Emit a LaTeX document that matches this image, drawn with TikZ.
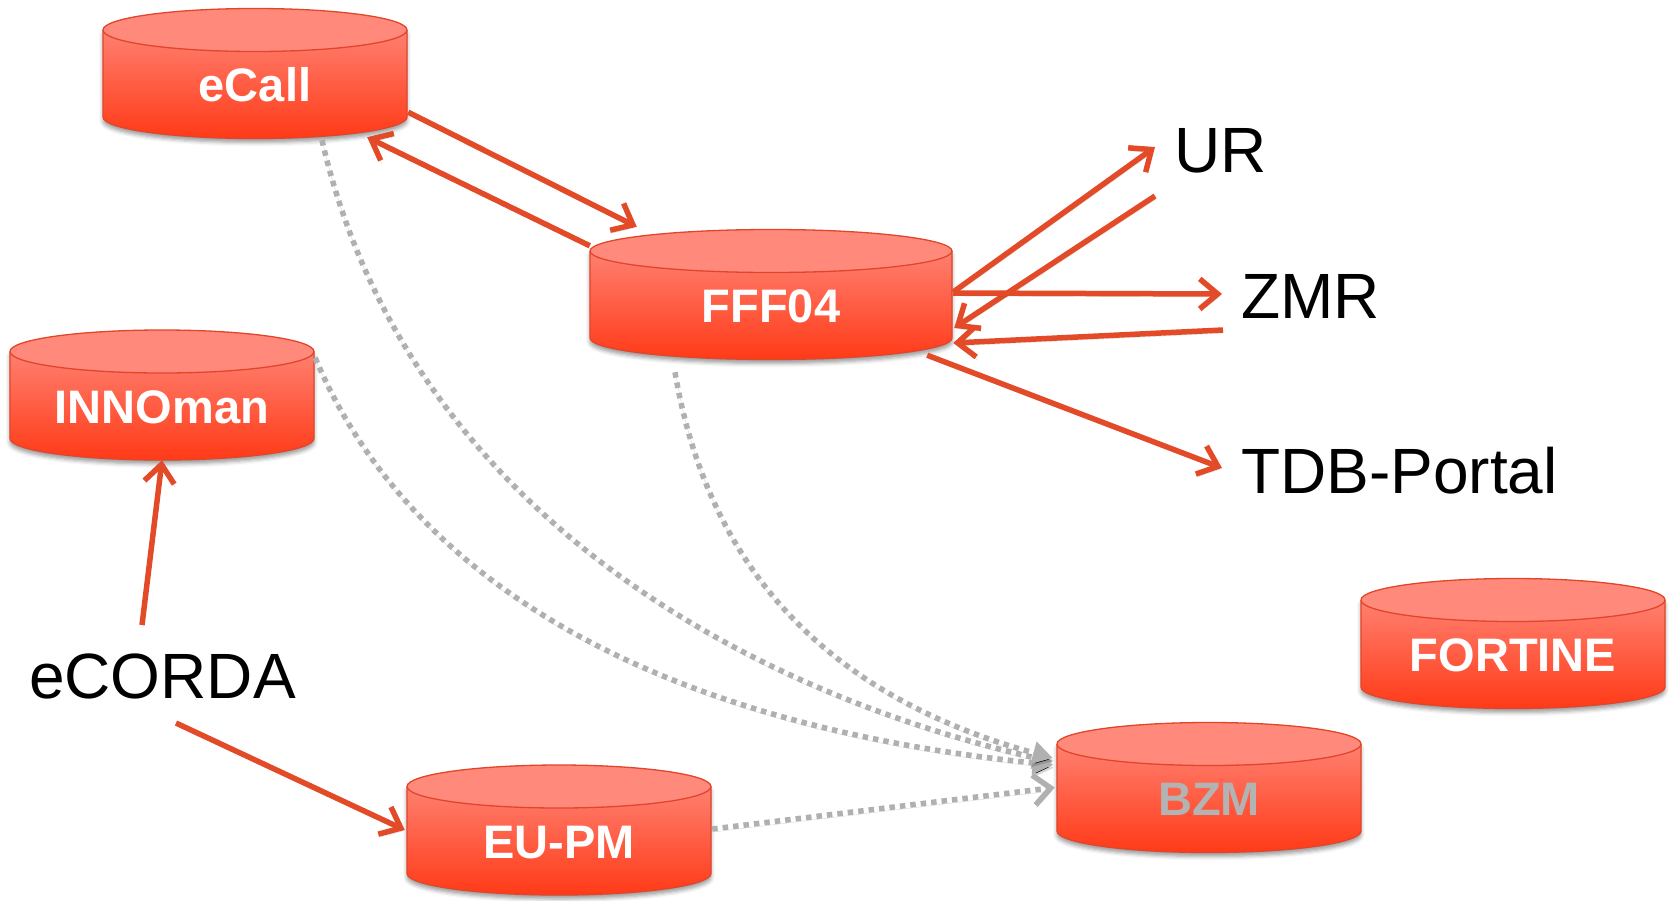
\documentclass[tikz,border=0pt]{standalone}
\usepackage{fontspec}
\setmainfont{Liberation Sans}
\usetikzlibrary{arrows.meta,calc,shadows.blur}
\definecolor{cylface}{HTML}{FF897B}
\definecolor{cyltop}{HTML}{FF8070}
\definecolor{cylbot}{HTML}{FF3A17}
\definecolor{cylline}{HTML}{E2452A}
\definecolor{arrred}{HTML}{E34A28}
\definecolor{dotgray}{HTML}{B0B0B0}
\definecolor{bzmtext}{HTML}{B3B3B3}
% #1 name, #2 cx, #3 top ellipse centre y, #4 half width, #5 label, #6 text colour
\newcommand{\dbcyl}[6]{%
  \shade[top color=cyltop, bottom color=cylbot,
         blur shadow={shadow xshift=0pt,shadow yshift=-4pt,shadow blur radius=4pt,shadow opacity=40}]
    (#2-#4,#3) -- (#2-#4,#3+87) arc[start angle=180,end angle=0,x radius=#4,y radius=21.5] -- (#2+#4,#3) -- cycle;
  \draw[cylline, line width=1.3pt]
    (#2-#4,#3) -- (#2-#4,#3+87) arc[start angle=180,end angle=0,x radius=#4,y radius=21.5] -- (#2+#4,#3);
  \filldraw[fill=cylface, draw=cylline, line width=1.3pt] (#2,#3) ellipse [x radius=#4, y radius=21.5];
  \node[dbtext, text=#6, minimum width={2pt*#4}] (#1) at (#2,#3+43.5) {#5};
}
\begin{document}
\begin{tikzpicture}[x=1pt,y=-1pt,
  dbtext/.style={rectangle, inner sep=0pt, font=\bfseries\fontsize{47}{50}\selectfont,
                 text height=60pt, text depth=4pt, minimum height=130pt},
  lbl/.style={inner sep=0pt, anchor=base west, font=\fontsize{64}{70}\selectfont, text=black},
  lineshadow/.style={preaction={draw=black, draw opacity=0.15, transform canvas={shift={(1pt,-3pt)}}}},
  redarrow/.style={lineshadow, draw=arrred, line width=5.5pt, -{Straight Barb[length=18pt,width=30pt]}},
  grayarrow/.style={lineshadow, draw=dotgray, line width=5.5pt, dash pattern=on 5.5pt off 5pt, -{Triangle[length=20pt,width=22pt]}},
  grayopen/.style={lineshadow, draw=dotgray, line width=5.5pt, dash pattern=on 5.5pt off 5pt, -{Straight Barb[length=17pt,width=30pt]}}]
\useasboundingbox (0,0) rectangle (1675,900);

\dbcyl{ecall}{255}{30}{152}{eCall}{white}
\dbcyl{fff}{771}{251}{181}{FFF04}{white}
\dbcyl{innoman}{162}{351.5}{152}{INNOman}{white}
\dbcyl{fortine}{1513}{600}{152}{FORTINE}{white}
\dbcyl{bzm}{1209}{744}{152}{BZM}{bzmtext}
\dbcyl{eupm}{559}{786.5}{152}{EU-PM}{white}

\node[lbl] (ur) at (1174,172) {UR};
\node[lbl] (zmr) at (1241,318) {ZMR};
\node[lbl] (tdb) at (1241,493) {TDB-Portal};
\node[lbl] (ecorda) at (29,698) {eCORDA};

% grey dotted connectors to BZM
\draw[grayarrow] ($(ecall.south)+(67,1.5)$) .. controls (400,480) and (700,680) .. ($(bzm.west)+(-4,-25.5)$);
\draw[grayarrow] ($(innoman.north east)+(1,28)$) .. controls (400,560) and (620,720) .. ($(bzm.west)+(-4,-22.5)$);
\draw[grayarrow] ($(fff.south)+(-96,12.5)$) .. controls (710,580) and (840,700) .. ($(bzm.west)+(-4,-29.5)$);
\draw[grayopen] ($(eupm.east)+(1,-1)$) -- ($(bzm.west)+(-2,0)$);

% red connectors
\draw[redarrow] ($(ecall.south east)+(1,-26.5)$) -- ($(fff.north west)+(47,-2.5)$);
\draw[redarrow] ($(fff.north west)+(0,16.5)$) -- ($(ecall.south east)+(-40,-1.5)$);
\draw[redarrow] ($(fff.east)+(1,-2.5)$) -- ($(ur.base west)+(-19,-25)$);
\draw[redarrow] ($(ur.base west)+(-19,24)$) -- ($(fff.east)+(2,33.5)$);
\draw[redarrow] ($(fff.east)+(1,-1.5)$) -- ($(zmr.base west)+(-19,-24)$);
\draw[redarrow] ($(zmr.base west)+(-18,12)$) -- ($(fff.east)+(1,48.5)$);
\draw[redarrow] ($(fff.south east)+(-25,-4.5)$) -- ($(tdb.base west)+(-19,-25)$);
\draw[redarrow] ($(ecorda.base west)+(113,-73)$) -- (innoman.south);
\draw[redarrow] ($(ecorda.base west)+(147,25)$) -- ($(eupm.west)+(-2,0)$);
\end{tikzpicture}
\end{document}
